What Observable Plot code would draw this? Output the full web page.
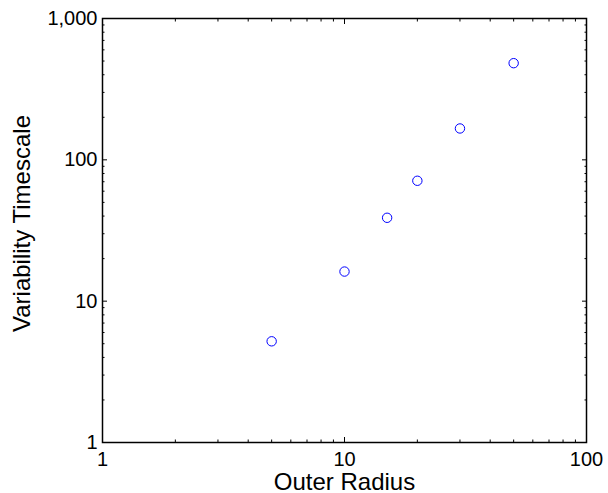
<!DOCTYPE html>
<html>
<head>
<meta charset="utf-8">
<script src="https://cdn.jsdelivr.net/npm/d3@7"></script>
<script src="https://cdn.jsdelivr.net/npm/@observablehq/plot@0.6"></script>
<style>
  html, body { margin: 0; padding: 0; background: #fff; }
</style>
</head>
<body>
<div id="chart"></div>
<script>
// Data
const outerRadius = [5, 10, 15, 20, 30, 50];
const variabilityTimescale = [5.2, 16.2, 38.9, 71.1, 166.7, 483];

// Tick values
const majorX = [1, 10, 100];
const minorX = [2, 3, 4, 5, 6, 7, 8, 9, 20, 30, 40, 50, 60, 70, 80, 90];
const majorY = [1, 10, 100, 1000];
const minorY = [2, 3, 4, 5, 6, 7, 8, 9, 20, 30, 40, 50, 60, 70, 80, 90, 200, 300, 400, 500, 600, 700, 800, 900];

const xLabel = "Outer Radius";
const yLabel = "Variability Timescale";

const points = outerRadius.map((r, i) => ({r, t: variabilityTimescale[i]}));
const fmt = d3.format(",");
const blank = () => "";

const chart = Plot.plot({
  width: 608,
  height: 493,
  marginLeft: 102,
  marginRight: 22,
  marginTop: 18,
  marginBottom: 51,
  style: {fontFamily: "Arial, 'Liberation Sans', Helvetica, sans-serif", color: "black", background: "white", overflow: "visible"},
  x: {type: "log", domain: [1, 100]},
  y: {type: "log", domain: [1, 1000]},
  marks: [
    // tick labels
    Plot.axisX(majorX, {anchor: "bottom", tickSize: 0, tickPadding: 9, tickFormat: fmt, fontSize: 20, label: null}),
    Plot.axisY(majorY, {anchor: "left", tickSize: 0, tickPadding: 5, tickFormat: fmt, fontSize: 20, label: null}),
    // inward tick marks on all four sides
    Plot.axisX(majorX, {anchor: "bottom", tickSize: -5, tickFormat: blank, label: null}),
    Plot.axisX(minorX, {anchor: "bottom", tickSize: -2.5, tickFormat: blank, label: null}),
    Plot.axisX(majorX, {anchor: "top", tickSize: -5, tickFormat: blank, label: null}),
    Plot.axisX(minorX, {anchor: "top", tickSize: -2.5, tickFormat: blank, label: null}),
    Plot.axisY(majorY, {anchor: "left", tickSize: -5, tickFormat: blank, label: null}),
    Plot.axisY(minorY, {anchor: "left", tickSize: -2.5, tickFormat: blank, label: null}),
    Plot.axisY(majorY, {anchor: "right", tickSize: -5, tickFormat: blank, label: null}),
    Plot.axisY(minorY, {anchor: "right", tickSize: -2.5, tickFormat: blank, label: null}),
    Plot.frame({stroke: "black", strokeWidth: 1.5}),
    // axis titles
    Plot.text([xLabel], {frameAnchor: "bottom", dy: 47, lineAnchor: "bottom", fontSize: 24, fill: "black"}),
    Plot.text([yLabel], {frameAnchor: "left", dx: -73, dy: -7, rotate: -90, lineAnchor: "bottom", textAnchor: "middle", fontSize: 24, fill: "black"}),
    // data points
    Plot.dot(points, {x: "r", y: "t", r: 4.7, stroke: "#0000ff", fill: "none", strokeWidth: 1})
  ]
});
document.getElementById("chart").appendChild(chart);
</script>
</body>
</html>
